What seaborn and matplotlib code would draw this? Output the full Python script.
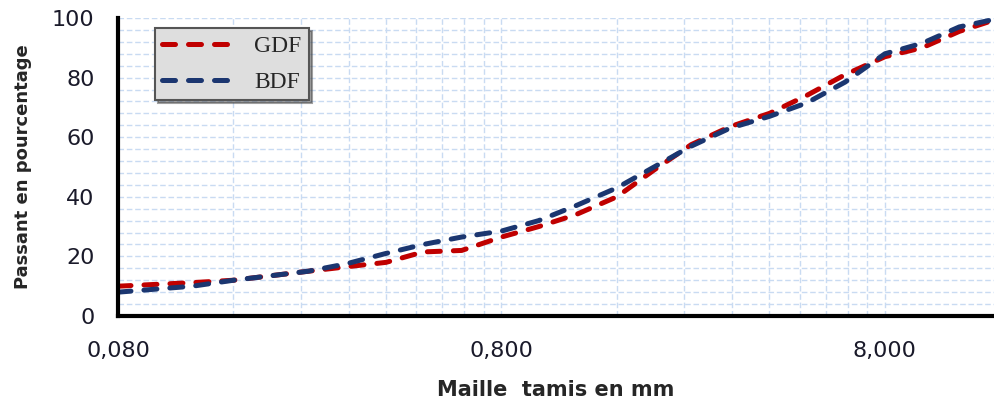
import matplotlib
matplotlib.use("Agg")
import matplotlib.pyplot as plt
import matplotlib.ticker as mticker
import seaborn as sns
import pandas as pd

# sieve sizes (mm)
sieves = [0.08, 0.1, 0.125, 0.16, 0.2, 0.25, 0.315, 0.4, 0.5, 0.63, 0.8, 1.0,
          1.25, 1.6, 2.0, 2.5, 3.15, 4.0, 5.0, 6.3, 8.0, 10.0, 12.5, 16.0]
gdf = [10, 10.6, 11.2, 12, 13.5, 15, 16.5, 18, 21.5, 22, 26.5, 30,
       34, 40, 49, 57.5, 63.5, 68, 74, 81, 87, 90, 95.5, 100]
bdf = [8, 9, 10, 12, 13.5, 15, 17.5, 21, 24, 26.5, 28.5, 32,
       37, 43, 50, 57, 63, 67, 71.5, 78.5, 88, 91.5, 97, 100]
series_names = ["GDF", "BDF"]
xtick_vals = [0.08, 0.8, 8.0]
xtick_labels = ["0,080", "0,800", "8,000"]
ytick_vals = [0, 20, 40, 60, 80, 100]

df = pd.concat([
    pd.DataFrame({"maille": sieves, "passant": gdf, "serie": series_names[0]}),
    pd.DataFrame({"maille": sieves, "passant": bdf, "serie": series_names[1]}),
])

sns.set_style("white")
plt.rcParams["font.family"] = ["DejaVu Sans"]

fig = plt.figure(figsize=(9.94, 4.01), dpi=100)
ax = fig.add_axes([118 / 994, (401 - 316) / 401, (994 - 118) / 994, (316 - 18) / 401])

colors = {"GDF": "#C00000", "BDF": "#1B3670"}
for name in series_names:
    sub = df[df["serie"] == name]
    sns.lineplot(data=sub, x="maille", y="passant", ax=ax, color=colors[name],
                 linewidth=3.6, linestyle=(0, (2.6, 2.6)), label=name,
                 dash_capstyle="round", sort=True, errorbar=None)

ax.set_xscale("log")
ax.set_xlim(0.08, 15.4)
ax.set_ylim(0, 100)

ax.xaxis.set_major_locator(mticker.FixedLocator(xtick_vals))
ax.xaxis.set_major_formatter(mticker.FixedFormatter(xtick_labels))
ax.xaxis.set_minor_locator(mticker.FixedLocator(
    [0.08 * m * 10 ** k for k in range(3) for m in range(2, 10)]))
ax.xaxis.set_minor_formatter(mticker.NullFormatter())
ax.yaxis.set_major_locator(mticker.FixedLocator(ytick_vals))
ax.yaxis.set_minor_locator(mticker.MultipleLocator(4))

ax.grid(True, which="both", axis="both", color="#C9DBF2", linestyle=(0, (4, 2)),
        linewidth=1.0)
ax.set_axisbelow(True)

for s in ["top", "right"]:
    ax.spines[s].set_visible(False)
for s in ["left", "bottom"]:
    ax.spines[s].set_linewidth(3)
    ax.spines[s].set_color("black")

ax.tick_params(axis="both", which="major", direction="out", length=5, width=3,
               color="black", labelsize=16, labelcolor="#1a1a2a")
ax.tick_params(axis="both", which="minor", length=0)
ax.tick_params(axis="x", pad=13)
ax.tick_params(axis="y", pad=12)

ax.set_xlabel("Maille  tamis en mm", fontsize=15, fontweight="bold", labelpad=14)
ax.set_ylabel("Passant en pourcentage", fontsize=13, fontweight="bold", labelpad=14)

leg = ax.legend(loc="upper left", bbox_to_anchor=(0.042, 0.966), borderaxespad=0,
                frameon=True, fancybox=False, shadow=True, handlelength=3.1,
                prop={"family": "Liberation Serif", "size": 17},
                labelspacing=0.6, borderpad=0.32, handletextpad=0.8)
leg.get_frame().set_facecolor("#DEDEDE")
leg.get_frame().set_edgecolor("#555555")
leg.get_frame().set_linewidth(1.5)

fig.savefig("out.png", dpi=100)
